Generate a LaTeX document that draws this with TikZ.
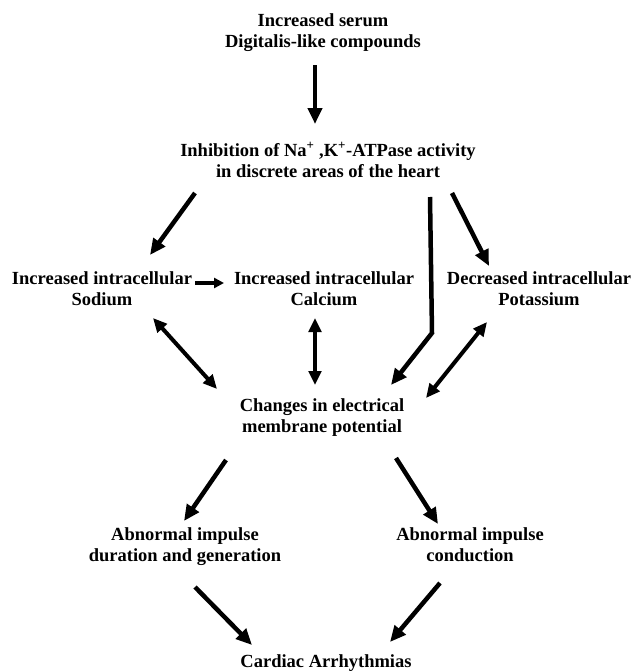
\documentclass[tikz,border=0pt]{standalone}
\usepackage{fontspec}
\setmainfont{Liberation Serif}
\usetikzlibrary{arrows.meta}
\usetikzlibrary{calc}

\tikzset{
  lbl/.style={align=center, inner sep=0pt, font=\fontsize{18.5}{21}\selectfont\bfseries,
    execute at begin node=\strut, execute at end node=\strut},
  fat/.style={line width=4.5pt, -{Triangle[length=16pt,width=14pt]}},
  both/.style={line width=4pt, {Triangle[length=14pt,width=12.5pt]}-{Triangle[length=14pt,width=12.5pt]}}
}

\begin{document}
\begin{tikzpicture}[x=1pt,y=-1pt]
\useasboundingbox (0,0) rectangle (636,672);

\node[lbl] (serum) at (323,34) {Increased serum\\Digitalis-like compounds};
\node[lbl] (inh) at (328,163) {Inhibition of Na\textsuperscript{+} ,K\textsuperscript{+}-ATPase activity\\in discrete areas of the heart};

\node[lbl] (na) at (102,291.5) {Increased intracellular\\Sodium};
\node[lbl] (ca) at (324,291.5) {Increased intracellular\\Calcium};
\node[lbl] (k) at (539,291.5) {Decreased intracellular\\Potassium};

\node[lbl] (mem) at (322,419) {Changes in electrical\\membrane potential};

\node[lbl] (dur) at (185,548) {Abnormal impulse\\duration and generation};
\node[lbl] (cond) at (470,548) {Abnormal impulse\\conduction};

\node[lbl] (arrh) at (326,663) {Cardiac Arrhythmias};

% top part
\draw[fat] ($(serum)+(-8,31)$) -- ($(inh)+(-13,-39)$);
\draw[fat] ($(inh)+(-133,30)$) -- ($(na)+(48,-36.5)$);
\draw[fat] ($(inh)+(124,30)$) -- ($(k)+(-50,-25.5)$);
\draw[fat, line join=miter] ($(inh)+(102,34)$) -- ($(mem)+(110,-86)$) -- ($(mem)+(69,-34)$);

% ions
\draw[line width=4pt, -{Triangle[length=10pt,width=10pt]}] ($(na)+(93,-8.5)$) -- ($(ca)+(-100,-8.5)$);
\draw[both] ($(na)+(51,26.5)$) -- ($(mem)+(-105,-30)$);
\draw[both] ($(ca)+(-9,26.5)$) -- ($(mem)+(-7,-34)$);
\draw[both] ($(k)+(-52,30.5)$) -- ($(mem)+(104,-21)$);

% bottom part
\draw[fat] ($(mem)+(-96,41)$) -- ($(dur)+(-1,-27)$);
\draw[fat] ($(mem)+(74,39)$) -- ($(cond)+(-32,-24)$);
\draw[fat] ($(dur)+(10,39)$) -- ($(arrh)+(-74,-18)$);
\draw[fat] ($(cond)+(-30,35)$) -- ($(arrh)+(64,-21)$);
\end{tikzpicture}
\end{document}
